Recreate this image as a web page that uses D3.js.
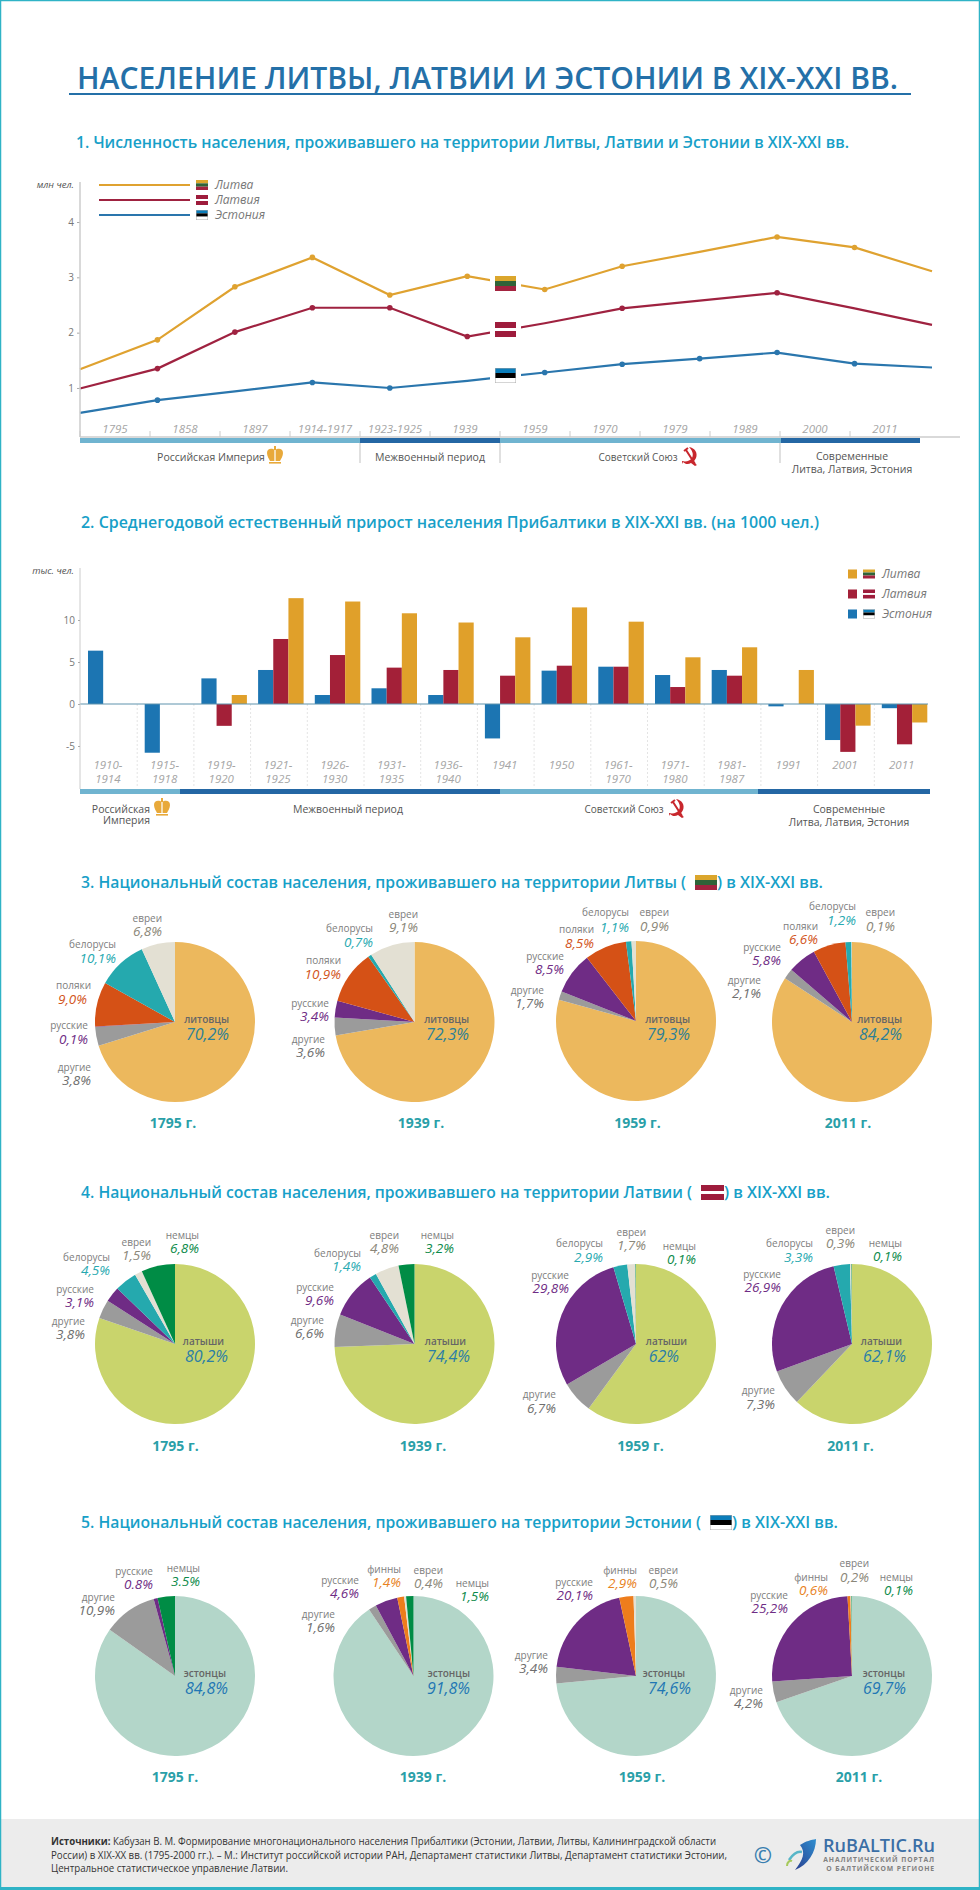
<!DOCTYPE html>
<html lang="ru">
<head>
<meta charset="utf-8">
<title>Население Литвы, Латвии и Эстонии</title>
<script src="https://cdn.jsdelivr.net/npm/d3@7"></script>
<style>
html, body { margin: 0; padding: 0; background: #fff; }
svg { display: block; font-family: "Open Sans", sans-serif; }
</style>
</head>
<body>
<div id="vis"></div>
<script>
//chart 1 data, million people
const popYears = ['1795', '1858', '1897', '1914-1917', '1923-1925', '1939', '1959', '1970', '1979', '1989', '2000', '2011']
const popLithuania = [1.34, 1.87, 2.83, 3.36, 2.68, 3.02, 2.78, 3.2, 3.46, 3.73, 3.54, 3.11]
const popLatvia = [0.99, 1.35, 2.01, 2.45, 2.45, 1.93, 2.17, 2.44, 2.58, 2.72, 2.44, 2.14]
const popEstonia = [0.55, 0.78, 0.94, 1.1, 1.0, 1.13, 1.28, 1.43, 1.53, 1.64, 1.44, 1.37]
const popTicks = [1, 2, 3, 4]

//chart 2 data, per 1000 people
const growthPeriods = ['1910-|1914', '1915-|1918', '1919-|1920', '1921-|1925', '1926-|1930', '1931-|1935', '1936-|1940', '1941', '1950', '1961-|1970', '1971-|1980', '1981-|1987', '1991', '2001', '2011']
const growthEstonia = [6.35, -5.8, 3.05, 4.05, 1.07, 1.87, 1.07, -4.1, 3.97, 4.44, 3.45, 4.05, -0.28, -4.29, -0.5]
const growthLatvia = [0, 0, -2.6, 7.74, 5.83, 4.33, 4.05, 3.37, 4.56, 4.44, 2.02, 3.37, 0, -5.7, -4.8]
const growthLithuania = [0, 0, 1.07, 12.6, 12.2, 10.8, 9.7, 7.94, 11.5, 9.8, 5.56, 6.75, 4.05, -2.58, -2.2]
const growthTicks = [-5, 0, 5, 10]

const pieYears = ['1795 г.', '1939 г.', '1959 г.', '2011 г.']

//pie data, kept as the printed strings so "9,0" or "62" stay as they are in the picture
const ltNames = ['литовцы', 'другие', 'русские', 'поляки', 'белорусы', 'евреи']
const lt1795 = ['70,2', '3,8', '0,1', '9,0', '10,1', '6,8']
const lt1939 = ['72,3', '3,6', '3,4', '10,9', '0,7', '9,1']
const lt1959 = ['79,3', '1,7', '8,5', '8,5', '1,1', '0,9']
const lt2011 = ['84,2', '2,1', '5,8', '6,6', '1,2', '0,1']

const lvNames = ['латыши', 'другие', 'русские', 'белорусы', 'евреи', 'немцы']
const lv1795 = ['80,2', '3,8', '3,1', '4,5', '1,5', '6,8']
const lv1939 = ['74,4', '6,6', '9,6', '1,4', '4,8', '3,2']
const lv1959 = ['62', '6,7', '29,8', '2,9', '1,7', '0,1']
const lv2011 = ['62,1', '7,3', '26,9', '3,3', '0,3', '0,1']

const eeNames1795 = ['эстонцы', 'другие', 'русские', 'немцы']
const ee1795 = ['84,8', '10,9', '0.8', '3.5']
const eeNames1939 = ['эстонцы', 'другие', 'русские', 'финны', 'евреи', 'немцы']
const ee1939 = ['91,8', '1,6', '4,6', '1,4', '0,4', '1,5']
const eeNames1959 = ['эстонцы', 'другие', 'русские', 'финны', 'евреи']
const ee1959 = ['74,6', '3,4', '20,1', '2,9', '0,5']
const eeNames2011 = ['эстонцы', 'другие', 'русские', 'финны', 'евреи', 'немцы']
const ee2011 = ['69,7', '4,2', '25,2', '0,6', '0,2', '0,1']

//colors
const sliceColor = {
    'литовцы': '#ecb85d', 'латыши': '#c9d46c', 'эстонцы': '#b3d6c9',
    'другие': '#9b9b9b', 'русские': '#6f2c85', 'поляки': '#d55116',
    'белорусы': '#25a9ae', 'евреи': '#e3e0d3', 'немцы': '#008c45', 'финны': '#ee7d1c'
}
const pctColor = {
    'литовцы': '#2b7f97', 'латыши': '#2b7ea6', 'эстонцы': '#1f77b4',
    'другие': '#6e6e6e', 'русские': '#6f2c85', 'поляки': '#d2541b',
    'белорусы': '#27a9b0', 'евреи': '#8b8779', 'немцы': '#0b8a4a', 'финны': '#e8821e'
}
const gold = '#dfa230', crimson = '#9f2240', blue = '#2a76ad'
const flagLt = [['#dba62c', 1], ['#2f6338', 1], ['#a3233f', 1]]
const flagLv = [['#9e1c3c', 2], ['#ffffff', 1], ['#9e1c3c', 2]]
const flagEe = [['#0b7dba', 1], ['#000000', 1], ['#ffffff', 1]]

//label positions: name right edge, name y, percent right edge, percent y
const labelsLt = [
    [[229, 1019, 229, 1034], [91, 1067, 91, 1080], [88, 1025, 88, 1039], [91, 985, 87, 999], [116, 944, 116, 958], [162, 918, 162, 931]],
    [[469, 1019, 469, 1034], [325, 1039, 325, 1052], [329, 1003, 329, 1016], [341, 960, 341, 974], [373, 928, 373, 942], [418, 914, 418, 927]],
    [[690, 1019, 690, 1034], [544, 990, 544, 1003], [564, 956, 564, 969], [594, 929, 594, 943], [629, 912, 629, 927], [669, 912, 669, 926]],
    [[902, 1019, 902, 1034], [761, 980, 761, 993], [781, 947, 781, 960], [818, 926, 818, 939], [856, 906, 856, 920], [895, 912, 895, 926]]
]
const labelsLv = [
    [[224, 1341, 228, 1356], [85, 1321, 85, 1334], [94, 1289, 94, 1302], [110, 1257, 110, 1270], [151, 1242, 151, 1255], [199, 1235, 199, 1248]],
    [[466, 1341, 470, 1356], [324, 1320, 324, 1333], [334, 1287, 334, 1300], [361, 1253, 361, 1266], [399, 1235, 399, 1248], [454, 1235, 454, 1248]],
    [[687, 1341, 679, 1356], [556, 1394, 556, 1408], [569, 1275, 569, 1288], [603, 1243, 603, 1257], [646, 1232, 646, 1245], [696, 1246, 696, 1259]],
    [[902, 1341, 906, 1356], [775, 1390, 775, 1404], [781, 1274, 781, 1287], [813, 1243, 813, 1257], [855, 1230, 855, 1243], [902, 1243, 902, 1256]]
]
const labelsEe = [
    [[226, 1673, 228, 1688], [115, 1597, 115, 1610], [153, 1571, 153, 1584], [200, 1568, 200, 1581]],
    [[470, 1673, 470, 1688], [335, 1614, 335, 1627], [359, 1580, 359, 1593], [401, 1569, 401, 1582], [443, 1570, 443, 1583], [489, 1583, 489, 1596]],
    [[685, 1673, 691, 1688], [548, 1655, 548, 1668], [593, 1582, 593, 1595], [637, 1570, 637, 1583], [678, 1570, 678, 1583]],
    [[905, 1673, 906, 1688], [763, 1690, 763, 1703], [788, 1595, 788, 1608], [828, 1577, 828, 1590], [869, 1563, 869, 1577], [913, 1577, 913, 1590]]
]

const width = 980
const height = 1890
const svg = d3.select('#vis').append('svg').attr('width', width).attr('height', height)

//frame and footer band
svg.append('rect').attr('x', 0).attr('y', 1819).attr('width', width).attr('height', 69).attr('fill', '#ececec')
svg.append('rect').attr('x', 0.5).attr('y', 0.5).attr('width', width - 1).attr('height', height - 2)
    .attr('fill', 'none').attr('stroke', '#2fb3c6').attr('stroke-width', 1.5)
svg.append('rect').attr('x', 0).attr('y', 1887).attr('width', width).attr('height', 3).attr('fill', '#2fb3c6')

function fitText(x, y, str, size, weight, color, len) {
    return svg.append('text').attr('x', x).attr('y', y).attr('dy', '0.35em')
        .attr('font-size', size).attr('font-weight', weight).attr('fill', color)
        .attr('textLength', len).attr('lengthAdjust', 'spacingAndGlyphs').text(str)
}

function label(x, y, str, anchor, size, color, italic, weight) {
    return svg.append('text').attr('x', x).attr('y', y).attr('dy', '0.35em')
        .attr('text-anchor', anchor).attr('font-size', size).attr('fill', color)
        .attr('font-style', italic ? 'italic' : 'normal').attr('font-weight', weight || 400).text(str)
}

//stripes of a flag, heights share the box
function flag(x, y, w, h, stripes, halo) {
    const g = svg.append('g')
    if (halo) g.append('rect').attr('x', x - 5).attr('y', y - 3).attr('width', w + 10).attr('height', h + 6).attr('fill', '#fff')
    const total = d3.sum(stripes, d => d[1])
    let top = y
    stripes.forEach(s => {
        const sh = h * s[1] / total
        g.append('rect').attr('x', x).attr('y', top).attr('width', w).attr('height', sh).attr('fill', s[0])
        top += sh
    })
    if (stripes === flagEe) {
        g.append('rect').attr('x', x + 0.25).attr('y', y + 0.25).attr('width', w - 0.5).attr('height', h - 0.5)
            .attr('fill', 'none').attr('stroke', '#aaa').attr('stroke-width', 0.5)
    }
}

function crown(x, y) {
    const g = svg.append('g').attr('transform', `translate(${x},${y})`).attr('fill', '#e8a93a')
    g.append('path').attr('d', 'M-8,-3 C-8,-8 -3,-8 0,-6 C3,-8 8,-8 8,-3 C8,0 6,3 5,5 L-5,5 C-6,3 -8,0 -8,-3 Z')
    g.append('rect').attr('x', -1).attr('y', -10).attr('width', 2).attr('height', 4)
    g.append('rect').attr('x', -6).attr('y', 6).attr('width', 12).attr('height', 1.6)
    g.append('rect').attr('x', -0.6).attr('y', -6).attr('width', 1.2).attr('height', 11).attr('fill', '#fff')
}

function sickle(x, y) {
    const g = svg.append('g').attr('transform', `translate(${x},${y})`)
    g.append('path').attr('fill', '#c8272d')
        .attr('d', 'M-1,-9 C5,-8 8,-3 6,2 C5,4 4,5 3,6 L7,9 L5,10 L1,7 C-2,9 -5,8 -7,6 L-8,8 L-8,5 C-4,6 0,5 2,2 C4,-2 2,-6 -1,-9 Z')
    g.append('path').attr('stroke', '#c8272d').attr('stroke-width', 2).attr('fill', 'none').attr('d', 'M-6,-5 L-2,-8 M-4,-6 L5,8')
}

//headline
fitText(77, 78, 'НАСЕЛЕНИЕ ЛИТВЫ, ЛАТВИИ И ЭСТОНИИ В XIX-XXI ВВ.', 30, 600, '#2470a8', 821)
svg.append('rect').attr('x', 69).attr('y', 93).attr('width', 842).attr('height', 2).attr('fill', '#2470a8')

const titleColor = '#17a0c8'
fitText(76, 143, '1. Численность населения, проживавшего на территории Литвы, Латвии и Эстонии в XIX-XXI вв.', 15.5, 600, titleColor, 773)
fitText(81, 523, '2. Среднегодовой естественный прирост населения Прибалтики в XIX-XXI вв. (на 1000 чел.)', 15.5, 600, titleColor, 738)
fitText(81, 883, '3. Национальный состав населения, проживавшего на территории Литвы (', 15.5, 600, titleColor, 605)
flag(695, 875, 22, 15, flagLt)
fitText(717, 883, ') в XIX-XXI вв.', 15.5, 600, titleColor, 106)
fitText(81, 1193, '4. Национальный состав населения, проживавшего на территории Латвии (', 15.5, 600, titleColor, 611)
flag(701, 1185, 23, 15, flagLv)
fitText(724, 1193, ') в XIX-XXI вв.', 15.5, 600, titleColor, 106)
fitText(81, 1523, '5. Национальный состав населения, проживавшего на территории Эстонии (', 15.5, 600, titleColor, 620)
flag(710, 1515, 22, 15, flagEe)
fitText(732, 1523, ') в XIX-XXI вв.', 15.5, 600, titleColor, 106)

//chart 1
const popX = d3.scalePoint().domain(popYears).range([80, 932])
const popBand = d3.scaleBand().domain(popYears).range([80, 920])
const popY = d3.scaleLinear().domain([0, 4]).range([443.3, 222])

const popLine = d3.line().x((d, i) => popX(popYears[i])).y(d => popY(d))
const popSeries = [
    { values: popLithuania, color: gold, dots: [1, 2, 3, 4, 5, 6, 7, 9, 10] },
    { values: popLatvia, color: crimson, dots: [1, 2, 3, 4, 5, 7, 9] },
    { values: popEstonia, color: blue, dots: [1, 3, 4, 6, 7, 8, 9, 10] }
]

popSeries.forEach(s => {
    svg.append('path').attr('d', popLine(s.values)).attr('fill', 'none').attr('stroke', s.color).attr('stroke-width', 2.2)
    svg.selectAll(null).data(s.dots).enter().append('circle')
        .attr('cx', i => popX(popYears[i])).attr('cy', i => popY(s.values[i])).attr('r', 2.8).attr('fill', s.color)
})

flag(495, 276, 21, 15, flagLt, true)
flag(495, 322, 21, 15, flagLv, true)
flag(495, 368, 21, 15, flagEe, true)

const popAxisY = svg.append('g').attr('transform', 'translate(80,0)')
    .call(d3.axisLeft(popY).tickValues(popTicks).tickFormat(d3.format('d')).tickSize(3))
popAxisY.select('.domain').remove()
popAxisY.selectAll('line').attr('stroke', '#aaa')
popAxisY.selectAll('text').attr('font-family', '"Open Sans", sans-serif').attr('font-size', 10).attr('fill', '#777')
svg.append('line').attr('x1', 80).attr('x2', 80).attr('y1', 182).attr('y2', 437).attr('stroke', '#ccc').attr('stroke-width', 1.5)
label(74, 185, 'млн чел.', 'end', 9.5, '#555', true)

const popAxisX = svg.append('g').attr('transform', 'translate(0,437)')
    .call(d3.axisBottom(popBand).tickSize(0))
popAxisX.select('.domain').remove()
popAxisX.selectAll('text').attr('font-family', '"Open Sans", sans-serif').attr('font-size', 11.5)
    .attr('font-style', 'italic').attr('fill', '#a5a5a5').attr('y', -4).attr('dy', '0')
svg.append('line').attr('x1', 80).attr('x2', 960).attr('y1', 437).attr('y2', 437).attr('stroke', '#ccc').attr('stroke-width', 1.5)
svg.selectAll(null).data(popYears).enter().append('line')
    .attr('x1', d => popBand(d)).attr('x2', d => popBand(d)).attr('y1', 431).attr('y2', 437).attr('stroke', '#ccc')

const lightBar = '#70b4d0', darkBar = '#2467a4'
function periodBar(x0, x1, y, h, color) {
    svg.append('rect').attr('x', x0).attr('y', y).attr('width', x1 - x0).attr('height', h).attr('fill', color)
}
periodBar(80, 360, 438, 5, lightBar)
periodBar(360, 500, 438, 5, darkBar)
periodBar(500, 781, 438, 5, lightBar)
periodBar(781, 920, 438, 5, darkBar)
;[360, 500, 780].forEach(x => {
    svg.append('line').attr('x1', x).attr('x2', x).attr('y1', 443).attr('y2', 463).attr('stroke', '#ccc').attr('stroke-width', 1.2)
})
const periodColor = '#555'
label(211, 457, 'Российская Империя', 'middle', 10.5, periodColor)
crown(275, 456)
label(430, 457, 'Межвоенный период', 'middle', 10.5, periodColor)
label(638, 457, 'Советский Союз', 'middle', 10, periodColor)
sickle(690, 456)
label(852, 456, 'Современные', 'middle', 10.5, periodColor)
label(852, 469, 'Литва, Латвия, Эстония', 'middle', 10.5, periodColor)

//chart 1 legend
const legendNames = ['Литва', 'Латвия', 'Эстония']
const legendFlags = [flagLt, flagLv, flagEe]
;[gold, crimson, blue].forEach((c, i) => {
    const y = 185 + i * 15
    svg.append('line').attr('x1', 99).attr('x2', 190).attr('y1', y).attr('y2', y).attr('stroke', c).attr('stroke-width', 2)
    flag(196, y - 5, 12, 10, legendFlags[i])
    label(215, y, legendNames[i], 'start', 12, '#777', true)
})

//chart 2
const growthX = d3.scaleBand().domain(growthPeriods).range([80.5, 931])
const growthSeries = ['ee', 'lv', 'lt']
const growthInner = d3.scaleBand().domain(growthSeries).range([7.5, 53])
const growthY = d3.scaleLinear().domain([-5, 10]).range([746, 620])
const growthBars = [
    { key: 'ee', values: growthEstonia, color: '#1c75b2' },
    { key: 'lv', values: growthLatvia, color: '#a32038' },
    { key: 'lt', values: growthLithuania, color: '#e0a02a' }
]

svg.selectAll(null).data(growthPeriods.slice(1)).enter().append('line')
    .attr('x1', d => growthX(d)).attr('x2', d => growthX(d)).attr('y1', 704).attr('y2', 788)
    .attr('stroke', '#e4e4e4').attr('stroke-dasharray', '2,2')

growthBars.forEach(s => {
    svg.selectAll(null).data(s.values.map((v, i) => ({ v, period: growthPeriods[i] })).filter(d => d.v !== 0))
        .enter().append('rect')
        .attr('x', d => growthX(d.period) + growthInner(s.key))
        .attr('width', growthInner.bandwidth())
        .attr('y', d => growthY(Math.max(d.v, 0)))
        .attr('height', d => Math.abs(growthY(d.v) - growthY(0)))
        .attr('fill', s.color)
})

svg.append('line').attr('x1', 80).attr('x2', 928).attr('y1', growthY(0)).attr('y2', growthY(0)).attr('stroke', '#5f93ad').attr('stroke-width', 1)
svg.append('line').attr('x1', 80).attr('x2', 80).attr('y1', 568).attr('y2', 789).attr('stroke', '#ccc').attr('stroke-width', 1)

const growthAxisY = svg.append('g').attr('transform', 'translate(80,0)')
    .call(d3.axisLeft(growthY).tickValues(growthTicks).tickSize(2).tickFormat(d3.format('d')))
growthAxisY.select('.domain').remove()
growthAxisY.selectAll('line').attr('stroke', '#aaa')
growthAxisY.selectAll('text').attr('font-family', '"Open Sans", sans-serif').attr('font-size', 10).attr('fill', '#777')
    .text(d => d < 0 ? '-' + Math.abs(d) : d)
label(74, 571, 'тыс. чел.', 'end', 9.5, '#555', true)

growthPeriods.forEach(p => {
    const parts = p.split('|')
    const cx = growthX(p) + growthX.bandwidth() / 2 - 1
    parts.forEach((part, i) => label(cx, 765 + i * 14, part, 'middle', 11.5, '#a5a5a5', true))
})

periodBar(80, 180, 789, 5, lightBar)
periodBar(180, 500, 789, 5, darkBar)
periodBar(500, 758, 789, 5, lightBar)
periodBar(758, 930, 789, 5, darkBar)
label(150, 809, 'Российская', 'end', 10.5, periodColor)
label(150, 820, 'Империя', 'end', 10.5, periodColor)
crown(162, 808)
label(348, 809, 'Межвоенный период', 'middle', 10.5, periodColor)
label(624, 809, 'Советский Союз', 'middle', 10, periodColor)
sickle(677, 808)
label(849, 809, 'Современные', 'middle', 10.5, periodColor)
label(849, 822, 'Литва, Латвия, Эстония', 'middle', 10.5, periodColor)

;['#e0a02a', '#a32038', '#1c75b2'].forEach((c, i) => {
    const y = 574 + i * 20
    svg.append('rect').attr('x', 848).attr('y', y - 4.5).attr('width', 9).attr('height', 9).attr('fill', c)
    flag(863, y - 4.5, 12, 9, legendFlags[i])
    label(882, y, legendNames[i], 'start', 12, '#777', true)
})

//pies
const pie = d3.pie().sort(null).value(d => d.value)
const arc = d3.arc().innerRadius(0).outerRadius(80)

function drawPie(cx, cy, names, texts, positions, yearX, yearY, year) {
    const rows = names.map((name, i) => ({ name, text: texts[i], value: +texts[i].replace(',', '.') }))
    svg.append('g').attr('transform', `translate(${cx},${cy})`)
        .selectAll('path').data(pie(rows)).enter().append('path')
        .attr('d', arc).attr('fill', d => sliceColor[d.data.name])
    rows.forEach((row, i) => {
        const p = positions[i]
        const main = i === 0
        label(p[0], p[1], row.name, 'end', 10, main ? '#666' : '#7d7d7d', false, main ? 600 : 400)
        label(p[2], p[3], row.text + '%', 'end', main ? 16 : 13.5, pctColor[row.name], true)
    })
    label(yearX, yearY, year, 'middle', 14, '#2a9fa8', false, 700)
}

const pieX = [175, 414.5, 636, 852]

drawPie(pieX[0], 1022, ltNames, lt1795, labelsLt[0], 173, 1123, pieYears[0])
drawPie(pieX[1], 1022, ltNames, lt1939, labelsLt[1], 421, 1123, pieYears[1])
drawPie(pieX[2], 1021, ltNames, lt1959, labelsLt[2], 637.5, 1123, pieYears[2])
drawPie(pieX[3], 1022, ltNames, lt2011, labelsLt[3], 848, 1123, pieYears[3])

drawPie(pieX[0], 1344, lvNames, lv1795, labelsLv[0], 175.5, 1446, pieYears[0])
drawPie(pieX[1], 1344, lvNames, lv1939, labelsLv[1], 423, 1446, pieYears[1])
drawPie(pieX[2], 1344, lvNames, lv1959, labelsLv[2], 640.5, 1446, pieYears[2])
drawPie(pieX[3], 1344, lvNames, lv2011, labelsLv[3], 850.5, 1446, pieYears[3])

drawPie(pieX[0], 1676, eeNames1795, ee1795, labelsEe[0], 175, 1777, pieYears[0])
drawPie(413.5, 1676, eeNames1939, ee1939, labelsEe[1], 423, 1777, pieYears[1])
drawPie(pieX[2], 1676, eeNames1959, ee1959, labelsEe[2], 642, 1777, pieYears[2])
drawPie(pieX[3], 1676, eeNames2011, ee2011, labelsEe[3], 859, 1777, pieYears[3])

//footer
const source1 = svg.append('text').attr('x', 51).attr('y', 1841).attr('dy', '0.35em').attr('font-size', 10).attr('fill', '#333')
    .attr('textLength', 665).attr('lengthAdjust', 'spacingAndGlyphs')
source1.append('tspan').attr('font-weight', 700).text('Источники: ')
source1.append('tspan').text('Кабузан В. М. Формирование многонационального населения Прибалтики (Эстонии, Латвии, Литвы, Калининградской области')
fitText(51, 1855, 'России) в XIX-XX вв. (1795-2000 гг.). – М.: Институт российской истории РАН, Департамент статистики Литвы, Департамент статистики Эстонии,', 10, 400, '#333', 676)
fitText(51, 1868, 'Центральное статистическое управление Латвии.', 10, 400, '#333', 237)

//logo
label(763, 1855, '©', 'middle', 22, '#3a7fb0', false, 600)
const swoosh = svg.append('defs').append('linearGradient').attr('id', 'swoosh').attr('x1', 0).attr('x2', 1).attr('y1', 1).attr('y2', 0)
swoosh.append('stop').attr('offset', 0).attr('stop-color', '#2a3f8f')
swoosh.append('stop').attr('offset', 1).attr('stop-color', '#2f8fd0')
svg.append('path').attr('fill', 'url(#swoosh)').attr('d', 'M800,1845 C806,1841 811,1840 816,1839 C816,1852 808,1865 795,1870 C803,1860 806,1852 800,1845 Z')
svg.append('path').attr('fill', 'none').attr('stroke', '#58b6c8').attr('stroke-width', 2.5).attr('d', 'M789,1860 C793,1854 798,1851 802,1852')
svg.append('path').attr('fill', 'none').attr('stroke', '#a6c95c').attr('stroke-width', 2).attr('d', 'M787,1866 C787,1862 790,1860 792,1861')
fitText(823, 1846, 'RuBALTIC.Ru', 18, 600, '#3b6fa6', 112)
label(935, 1860, 'АНАЛИТИЧЕСКИЙ ПОРТАЛ', 'end', 6.8, '#808080', false, 700).attr('letter-spacing', 0.9)
label(935, 1869, 'О БАЛТИЙСКОМ РЕГИОНЕ', 'end', 6.8, '#808080', false, 700).attr('letter-spacing', 0.9)
</script>
</body>
</html>
